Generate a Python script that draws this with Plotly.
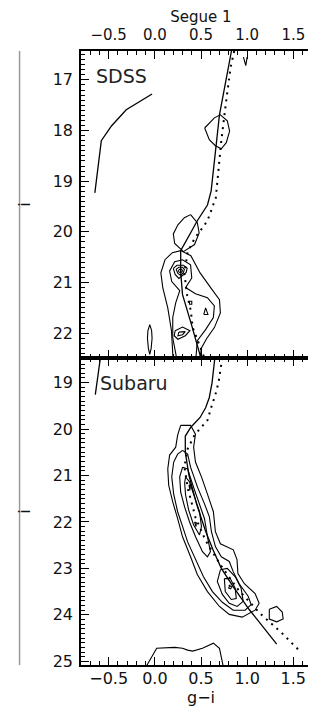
import plotly.graph_objects as go

# ---------------- data: SDSS panel (top) ----------------
x_range = [-0.8, 1.8]
sdss_i_range = [22.49, 16.43]
subaru_i_range = [25.08, 18.47]
x_ticks = [-0.5, 0.0, 0.5, 1.0, 1.5]
x_ticklabels = ["\u22120.5", "0.0", "0.5", "1.0", "1.5"]
sdss_i_ticks = [17, 18, 19, 20, 21, 22]
subaru_i_ticks = [19, 20, 21, 22, 23, 24, 25]

sdss_iso_gi = [0.83, 0.70, 0.61, 0.57, 0.46, 0.37, 0.28, 0.28, 0.30, 0.40, 0.50]
sdss_iso_i = [16.43, 17.69, 19.19, 19.47, 19.78, 20.08, 20.37, 20.80, 21.24, 21.85, 22.50]

sdss_iso2_gi = [0.86, 0.82, 0.76, 0.72, 0.66, 0.60, 0.57, 0.516, 0.43, 0.355, 0.32, 0.35, 0.39, 0.41, 0.54]
sdss_iso2_i = [16.43, 16.76, 17.60, 18.20, 19.33, 19.62, 19.78, 19.92, 20.13, 20.40, 20.82, 21.25, 21.56, 21.89, 22.50]

sdss_hb_gi = [-0.03, -0.31, -0.47, -0.58, -0.65]
sdss_hb_i = [17.28, 17.59, 17.91, 18.20, 19.23]

sdss_c1_gi = [0.54, 0.645, 0.71, 0.785, 0.81, 0.774, 0.72, 0.656, 0.59, 0.54]
sdss_c1_i = [17.95, 17.75, 17.69, 17.81, 18.01, 18.24, 18.36, 18.30, 18.18, 17.95]

sdss_c2_gi = [0.387, 0.46, 0.48, 0.43, 0.31, 0.215, 0.20, 0.25, 0.32, 0.387]
sdss_c2_i = [19.66, 19.82, 20.02, 20.25, 20.39, 20.23, 20.04, 19.86, 19.72, 19.66]

sdss_c3_gi = [0.20, 0.18, 0.14, 0.086, 0.065, 0.11, 0.19, 0.28, 0.39, 0.49, 0.62, 0.70, 0.71, 0.645, 0.56, 0.505, 0.48]
sdss_c3_i = [22.60, 21.95, 21.50, 21.10, 20.81, 20.55, 20.41, 20.37, 20.47, 20.81, 21.14, 21.34, 21.60, 21.89, 22.11, 22.29, 22.60]

sdss_c4_gi = [0.247, 0.194, 0.194, 0.226, 0.27, 0.183, 0.16, 0.215, 0.30, 0.387, 0.40, 0.333, 0.44, 0.57, 0.645, 0.634, 0.55, 0.46, 0.44]
sdss_c4_i = [22.60, 22.09, 21.69, 21.40, 21.16, 20.98, 20.77, 20.59, 20.55, 20.65, 20.91, 21.10, 21.22, 21.30, 21.46, 21.69, 21.93, 22.15, 22.60]

sdss_r1_gi = [0.20, 0.24, 0.31, 0.35, 0.34, 0.29, 0.26, 0.22, 0.20]
sdss_r1_i = [20.72, 20.66, 20.66, 20.72, 20.80, 20.88, 20.92, 20.84, 20.72]
sdss_r2_gi = [0.23, 0.26, 0.30, 0.32, 0.31, 0.28, 0.25, 0.23]
sdss_r2_i = [20.74, 20.70, 20.70, 20.74, 20.80, 20.86, 20.82, 20.74]
sdss_r3_gi = [0.255, 0.27, 0.29, 0.30, 0.28, 0.26, 0.255]
sdss_r3_i = [20.76, 20.74, 20.74, 20.77, 20.81, 20.79, 20.76]

sdss_dot_gi = [0.375, 0.40, 0.40, 0.375, 0.375]
sdss_dot_i = [21.37, 21.37, 21.43, 21.43, 21.37]
sdss_tri_gi = [0.53, 0.55, 0.575, 0.53]
sdss_tri_i = [21.63, 21.50, 21.63, 21.63]

sdss_drop1_gi = [0.22, 0.30, 0.38, 0.33, 0.25, 0.21, 0.22]
sdss_drop1_i = [21.95, 21.88, 21.95, 22.05, 22.12, 22.05, 21.95]
sdss_drop2_gi = [0.26, 0.33, 0.30, 0.25, 0.26]
sdss_drop2_i = [21.98, 21.97, 22.03, 22.05, 21.98]

sdss_ell_gi = [-0.055, -0.035, -0.03, -0.04, -0.055, -0.07, -0.08, -0.075, -0.055]
sdss_ell_i = [21.83, 21.95, 22.10, 22.30, 22.42, 22.30, 22.10, 21.95, 21.83]

sdss_nick_gi = [0.96, 0.985, 1.0]
sdss_nick_i = [16.55, 16.72, 16.55]

# ---------------- data: Subaru panel (bottom) ----------------
sub_iso_gi = [0.65, 0.62, 0.59, 0.55, 0.49, 0.39, 0.33, 0.33, 0.37, 0.45, 0.55, 0.63, 0.72, 0.85, 1.02, 1.32]
sub_iso_i = [18.47, 19.00, 19.32, 19.54, 19.75, 19.96, 20.15, 20.50, 21.00, 21.60, 22.20, 22.60, 23.00, 23.40, 23.88, 24.63]

sub_iso2_gi = [0.73, 0.69, 0.65, 0.62, 0.57, 0.49, 0.43, 0.355, 0.32, 0.36, 0.44, 0.55, 0.71, 0.90, 1.14, 1.38, 1.57]
sub_iso2_i = [18.47, 19.00, 19.30, 19.47, 19.81, 20.00, 20.13, 20.43, 20.82, 21.30, 21.90, 22.40, 22.92, 23.45, 23.97, 24.40, 24.78]

sub_hb_gi = [-0.59, -0.645]
sub_hb_i = [18.47, 19.26]

sub_c1_gi = [0.28, 0.387, 0.44, 0.42, 0.44, 0.505, 0.57, 0.634, 0.656, 0.71, 0.85, 0.89, 0.90, 0.97, 1.086, 1.13, 1.086,
             0.946, 0.806, 0.70, 0.57, 0.46, 0.387, 0.30, 0.247, 0.194, 0.15, 0.14, 0.16, 0.226, 0.247, 0.28]
sub_c1_i = [19.92, 19.92, 20.11, 20.39, 20.71, 21.03, 21.40, 21.78, 22.21, 22.47, 22.60, 22.81, 23.11, 23.33, 23.54, 23.75, 23.90,
            24.05, 23.99, 23.82, 23.50, 23.13, 22.75, 22.32, 21.93, 21.57, 21.21, 20.86, 20.56, 20.39, 20.13, 19.92]

sub_c2_gi = [0.301, 0.355, 0.387, 0.462, 0.538, 0.591, 0.613, 0.656, 0.72, 0.806, 0.849, 0.914, 1.011, 1.043, 0.978, 0.849,
             0.731, 0.624, 0.527, 0.441, 0.355, 0.301, 0.247, 0.204, 0.183, 0.204, 0.247, 0.301]
sub_c2_i = [20.46, 20.54, 20.82, 21.25, 21.61, 21.89, 22.21, 22.53, 22.75, 22.85, 23.07, 23.33, 23.60, 23.78, 23.90, 23.90,
            23.73, 23.50, 23.18, 22.79, 22.43, 22.10, 21.78, 21.40, 21.03, 20.71, 20.54, 20.46]

sub_c3a_gi = [0.301, 0.355, 0.419, 0.484, 0.538, 0.570, 0.602, 0.570, 0.516, 0.441, 0.376, 0.323, 0.280, 0.269, 0.301]
sub_c3a_i = [20.82, 20.86, 21.25, 21.61, 21.93, 22.32, 22.64, 22.75, 22.64, 22.32, 22.00, 21.68, 21.36, 21.03, 20.82]
sub_c3b_gi = [0.71, 0.785, 0.871, 0.935, 0.957, 0.892, 0.806, 0.731, 0.677, 0.71]
sub_c3b_i = [23.03, 23.00, 23.18, 23.43, 23.71, 23.82, 23.75, 23.56, 23.28, 23.03]

sub_c4a_gi = [0.333, 0.376, 0.43, 0.484, 0.505, 0.484, 0.419, 0.366, 0.333, 0.323, 0.333]
sub_c4a_i = [21.03, 21.14, 21.46, 21.78, 22.10, 22.28, 22.06, 21.74, 21.42, 21.16, 21.03]
sub_c4b_gi = [0.753, 0.817, 0.871, 0.882, 0.828, 0.763, 0.753]
sub_c4b_i = [23.22, 23.22, 23.43, 23.65, 23.67, 23.50, 23.22]

sub_m1_gi = [0.37, 0.385, 0.38, 0.37]
sub_m1_i = [21.20, 21.22, 21.32, 21.20]
sub_m2_gi = [0.43, 0.45, 0.445, 0.43]
sub_m2_i = [22.00, 22.02, 22.10, 22.00]
sub_m3_gi = [0.80, 0.835, 0.82, 0.80, 0.815]
sub_m3_i = [23.36, 23.40, 23.44, 23.42, 23.35]

sub_hex_gi = [1.24, 1.32, 1.38, 1.39, 1.32, 1.24, 1.24]
sub_hex_i = [23.88, 23.82, 23.94, 24.09, 24.15, 24.09, 23.88]

sub_low_gi = [-0.09, 0.02, 0.215, 0.30, 0.355, 0.41, 0.516, 0.634, 0.70, 0.74]
sub_low_i = [25.10, 24.72, 24.70, 24.72, 24.76, 24.78, 24.72, 24.61, 24.72, 25.10]

# ---------------- figure ----------------
fig = go.Figure()


def add_line(gi, imag, panel, dash=None, width=1.2):
    xa, ya = ("x2", "y2") if panel == "top" else ("x", "y")
    fig.add_trace(go.Scatter(
        x=gi, y=imag, mode="lines", xaxis=xa, yaxis=ya,
        line=dict(color="black", width=width, dash=dash),
        hoverinfo="skip", showlegend=False))


top_contours = [
    (sdss_c1_gi, sdss_c1_i), (sdss_c2_gi, sdss_c2_i), (sdss_c3_gi, sdss_c3_i),
    (sdss_c4_gi, sdss_c4_i), (sdss_r1_gi, sdss_r1_i), (sdss_r2_gi, sdss_r2_i),
    (sdss_r3_gi, sdss_r3_i), (sdss_dot_gi, sdss_dot_i), (sdss_tri_gi, sdss_tri_i),
    (sdss_drop1_gi, sdss_drop1_i), (sdss_drop2_gi, sdss_drop2_i),
    (sdss_ell_gi, sdss_ell_i), (sdss_nick_gi, sdss_nick_i),
]
bottom_contours = [
    (sub_c1_gi, sub_c1_i), (sub_c2_gi, sub_c2_i), (sub_c3a_gi, sub_c3a_i),
    (sub_c3b_gi, sub_c3b_i), (sub_c4a_gi, sub_c4a_i), (sub_c4b_gi, sub_c4b_i),
    (sub_m1_gi, sub_m1_i), (sub_m2_gi, sub_m2_i), (sub_m3_gi, sub_m3_i),
    (sub_hex_gi, sub_hex_i), (sub_low_gi, sub_low_i),
]

for gi, im in top_contours:
    add_line(gi, im, "top", width=1.1)
for gi, im in bottom_contours:
    add_line(gi, im, "bottom", width=1.1)

add_line(sdss_iso_gi, sdss_iso_i, "top", width=1.3)
add_line(sdss_iso2_gi, sdss_iso2_i, "top", dash="2px,5px", width=2)
add_line(sdss_hb_gi, sdss_hb_i, "top", width=1.3)
add_line(sub_iso_gi, sub_iso_i, "bottom", width=1.3)
add_line(sub_iso2_gi, sub_iso2_i, "bottom", dash="2px,5px", width=2)
add_line(sub_hb_gi, sub_hb_i, "bottom", width=1.3)

FONT = "DejaVu Sans"
tick_font = dict(family=FONT, size=16, color="#111")
minor_x = dict(ticks="inside", ticklen=4, dtick=0.1, tickwidth=1, tickcolor="black")
minor_y = dict(ticks="inside", ticklen=4, dtick=0.1, tickwidth=1, tickcolor="black")
common_axis = dict(showline=True, linecolor="black", linewidth=1.5, mirror="allticks",
                   ticks="inside", ticklen=8, tickwidth=1.2, tickcolor="black",
                   showgrid=False, zeroline=False)

fig.update_layout(
    width=316, height=711,
    margin=dict(l=73, r=1, t=43, b=54),
    paper_bgcolor="white", plot_bgcolor="white",
    showlegend=False,
    xaxis=dict(domain=[0, 1], anchor="y", range=x_range, tickvals=x_ticks, ticktext=x_ticklabels,
               tickfont=tick_font, minor=minor_x, ticklabelstandoff=-2,
               title=dict(text="g\u2212i", font=dict(family=FONT, size=16, color="#111"), standoff=2),
               **common_axis),
    xaxis2=dict(domain=[0, 1], anchor="y2", side="top", range=x_range, tickvals=x_ticks, ticktext=x_ticklabels,
                tickfont=dict(family=FONT, size=15, color="#111"), minor=minor_x, ticklabelstandoff=3,
                title=dict(text="Segue 1", font=dict(family=FONT, size=15, color="#111"), standoff=5),
                **common_axis),
    yaxis=dict(domain=[0, 0.5], anchor="x", range=subaru_i_range, tickvals=subaru_i_ticks,
               tickfont=tick_font, minor=minor_y, ticklabelstandoff=3,
               title=dict(text="i", font=dict(family=FONT, size=16, color="#111"), standoff=18),
               **common_axis),
    yaxis2=dict(domain=[0.5, 1], anchor="x2", range=sdss_i_range, tickvals=sdss_i_ticks,
                tickfont=tick_font, minor=minor_y, ticklabelstandoff=3,
                title=dict(text="i", font=dict(family=FONT, size=16, color="#111"), standoff=18),
                **common_axis),
    annotations=[
        dict(text="SDSS", x=-0.66, y=16.93, xref="x2", yref="y2", xanchor="left", yanchor="middle",
             showarrow=False, font=dict(family=FONT, size=19, color="#222")),
        dict(text="Subaru", x=-0.62, y=19.0, xref="x", yref="y", xanchor="left", yanchor="middle",
             showarrow=False, font=dict(family=FONT, size=19, color="#222")),
    ],
    shapes=[
        dict(type="line", xref="paper", yref="paper", x0=-0.256, x1=-0.256, y0=0, y1=1,
             line=dict(color="#9a9a9a", width=1.5)),
    ],
)

fig.write_html("out.html")
